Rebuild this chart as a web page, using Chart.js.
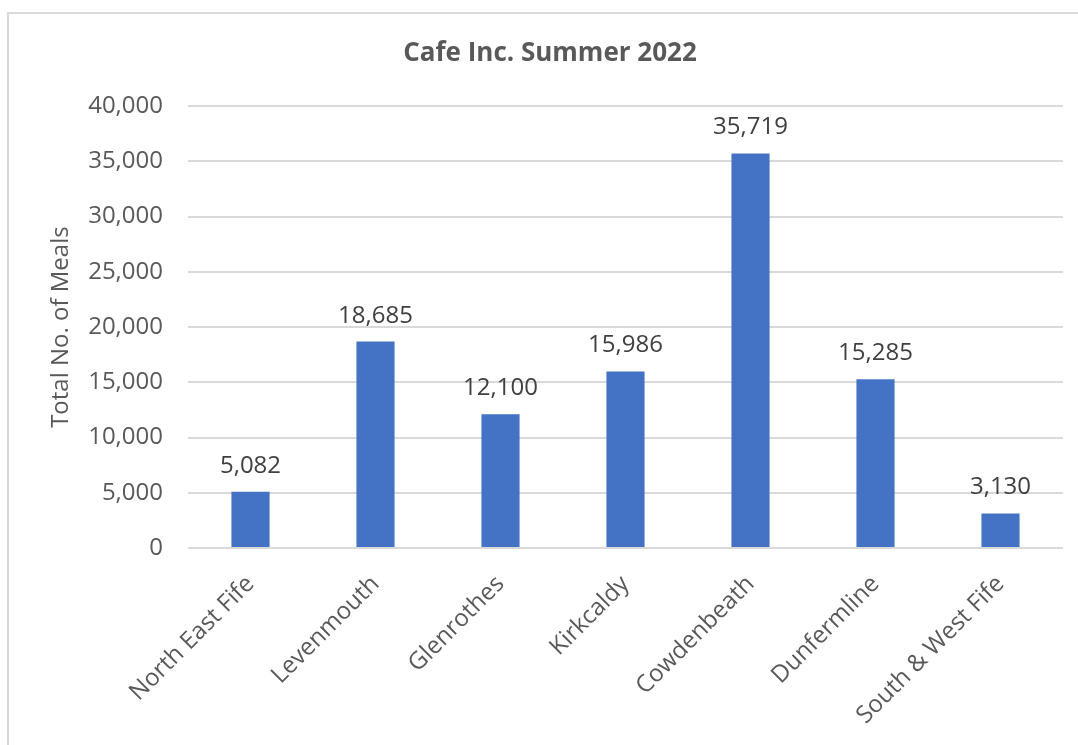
<!DOCTYPE html>
<html>
<head>
<meta charset="utf-8">
<script src="https://cdn.jsdelivr.net/npm/chart.js@4.4.0/dist/chart.umd.min.js"></script>
<style>
  html, body { margin: 0; padding: 0; background: #fff; overflow: hidden; }
  #frame { position: absolute; left: 7px; top: 12px; width: 1080px; height: 740px; border: 2px solid #d9d9d9; }
  #wrap { position: absolute; left: 0; top: 0; width: 1078px; height: 745px; }
</style>
</head>
<body>
<div id="frame"></div>
<div id="wrap"><canvas id="mealsChart" width="1078" height="745"></canvas></div>
<script>
// Cafe Inc. meals per area, summer 2022
const areas = ['North East Fife', 'Levenmouth', 'Glenrothes', 'Kirkcaldy', 'Cowdenbeath', 'Dunfermline', 'South & West Fife'];
const meals = [5082, 18685, 12100, 15986, 35719, 15285, 3130];
const yTicks = [0, 5000, 10000, 15000, 20000, 25000, 30000, 35000, 40000];

const fmt = v => v.toLocaleString('en-US');

// value labels above each bar
const barLabels = {
    id: 'barLabels',
    afterDatasetsDraw(chart) {
        const ctx = chart.ctx;
        const meta = chart.getDatasetMeta(0);
        ctx.save();
        ctx.font = '24px "Open Sans"';
        ctx.fillStyle = '#404040';
        ctx.textAlign = 'center';
        ctx.textBaseline = 'alphabetic';
        meta.data.forEach((bar, i) => {
            ctx.fillText(fmt(meals[i]), bar.x, bar.y - 19);
        });
        ctx.restore();
    }
};

const ctx = document.getElementById('mealsChart').getContext('2d');
new Chart(ctx, {
    type: 'bar',
    data: {
        labels: areas,
        datasets: [{
            label: 'Total No. of Meals',
            data: meals,
            backgroundColor: '#4472C4',
            barPercentage: 0.61,
            categoryPercentage: 0.5
        }]
    },
    options: {
        responsive: false,
        animation: false,
        layout: { padding: { left: 37, right: 15, top: 0, bottom: 0 } },
        plugins: {
            legend: { display: false },
            tooltip: { enabled: false },
            title: {
                display: true,
                text: 'Cafe Inc. Summer 2022',
                color: '#595959',
                font: { family: 'Open Sans', size: 26, weight: 'bold', lineHeight: 1.2 },
                padding: { top: 38, bottom: 37 }
            }
        },
        scales: {
            x: {
                grid: { display: false },
                border: { display: false },
                ticks: {
                    color: '#595959',
                    font: { family: 'Open Sans', size: 24 },
                    minRotation: 45,
                    maxRotation: 45,
                    autoSkip: false,
                    padding: 14
                },
                afterFit(scale) { scale.height = 197; }
            },
            y: {
                min: 0,
                max: 40000,
                afterBuildTicks(scale) { scale.ticks = yTicks.map(v => ({ value: v })); },
                grid: { color: '#d9d9d9', lineWidth: 2, drawTicks: false },
                border: { display: false },
                ticks: {
                    color: '#595959',
                    font: { family: 'Open Sans', size: 24 },
                    padding: 25,
                    callback: v => fmt(v)
                },
                title: {
                    display: true,
                    text: 'Total No. of Meals',
                    color: '#595959',
                    font: { family: 'Open Sans', size: 24, lineHeight: 1.2 },
                    padding: { top: 10, bottom: 0 }
                },
                afterFit(scale) { scale.width = 151; }
            }
        }
    },
    plugins: [barLabels]
});
</script>
</body>
</html>
